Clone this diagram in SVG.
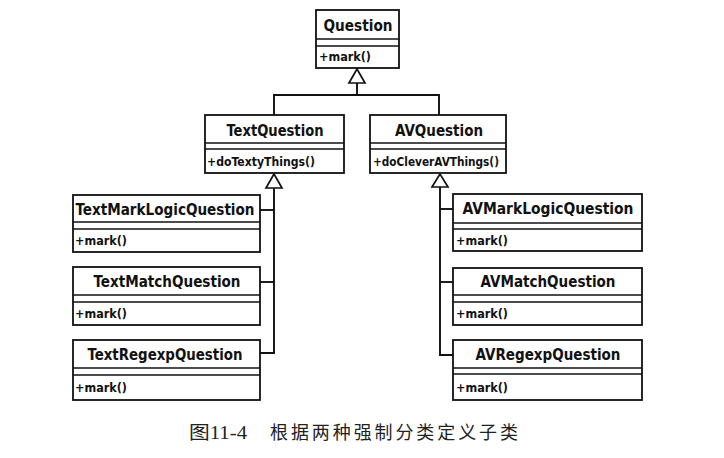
<svg xmlns="http://www.w3.org/2000/svg" width="724" height="458" viewBox="0 0 724 458">
<style>
.box{fill:#fff;stroke:#111;stroke-width:1.8}
.sep{stroke:#111;stroke-width:1.4}
.t{font-family:"DejaVu Sans Condensed","Liberation Sans",sans-serif;font-weight:bold;font-size:16.5px;fill:#111;text-anchor:middle}
.m{font-family:"DejaVu Sans Condensed","Liberation Sans",sans-serif;font-weight:bold;font-size:12px;fill:#111}
.c{stroke:#111;stroke-width:1.9;fill:none}
.tri{fill:#fff;stroke:#111;stroke-width:1.7}
.cap{font-family:"Liberation Serif","Noto Sans CJK SC",serif;font-size:18px;fill:#222}
</style>
<rect width="724" height="458" fill="#fff"/>
<g id="connectors">
<polyline class="c" points="357,83 357,95"/>
<polyline class="c" points="274,115 274,95 439,95 439,115"/>
<polygon class="tri" points="357,69 349,83 365,83"/>
<polyline class="c" points="274,188 274,353 260,353"/>
<line class="c" x1="260" y1="210" x2="274" y2="210"/>
<line class="c" x1="260" y1="282" x2="274" y2="282"/>
<polygon class="tri" points="274,174 266,188 282,188"/>
<polyline class="c" points="440,187 440,355 453,355"/>
<line class="c" x1="440" y1="209" x2="453" y2="209"/>
<line class="c" x1="440" y1="282" x2="453" y2="282"/>
<polygon class="tri" points="440,174 432,187 448,187"/>
</g>
<g id="Question">
<rect class="box" x="316" y="10" width="83" height="58"/>
<line class="sep" x1="316" y1="39" x2="399" y2="39"/>
<line class="sep" x1="316" y1="46" x2="399" y2="46"/>
<text class="t" x="358" y="31" textLength="69" lengthAdjust="spacingAndGlyphs">Question</text>
<text class="m" x="319" y="61" textLength="52" lengthAdjust="spacingAndGlyphs">+mark()</text>
</g>
<g id="TextQuestion">
<rect class="box" x="205" y="115" width="139" height="58"/>
<line class="sep" x1="205" y1="143" x2="344" y2="143"/>
<line class="sep" x1="205" y1="149" x2="344" y2="149"/>
<text class="t" x="275" y="136" textLength="97" lengthAdjust="spacingAndGlyphs">TextQuestion</text>
<text class="m" x="207" y="166" textLength="108" lengthAdjust="spacingAndGlyphs">+doTextyThings()</text>
</g>
<g id="AVQuestion">
<rect class="box" x="370" y="115" width="136" height="58"/>
<line class="sep" x1="370" y1="143" x2="506" y2="143"/>
<line class="sep" x1="370" y1="149" x2="506" y2="149"/>
<text class="t" x="439" y="136" textLength="88" lengthAdjust="spacingAndGlyphs">AVQuestion</text>
<text class="m" x="373" y="166" textLength="126" lengthAdjust="spacingAndGlyphs">+doCleverAVThings()</text>
</g>
<g id="TextMarkLogicQuestion">
<rect class="box" x="73" y="195" width="187" height="57"/>
<line class="sep" x1="73" y1="222" x2="260" y2="222"/>
<line class="sep" x1="73" y1="229" x2="260" y2="229"/>
<text class="t" x="165" y="215" textLength="179" lengthAdjust="spacingAndGlyphs">TextMarkLogicQuestion</text>
<text class="m" x="75" y="245" textLength="52" lengthAdjust="spacingAndGlyphs">+mark()</text>
</g>
<g id="TextMatchQuestion">
<rect class="box" x="73" y="267" width="187" height="58"/>
<line class="sep" x1="73" y1="295" x2="260" y2="295"/>
<line class="sep" x1="73" y1="302" x2="260" y2="302"/>
<text class="t" x="167" y="287" textLength="147" lengthAdjust="spacingAndGlyphs">TextMatchQuestion</text>
<text class="m" x="75" y="318" textLength="52" lengthAdjust="spacingAndGlyphs">+mark()</text>
</g>
<g id="TextRegexpQuestion">
<rect class="box" x="73" y="340" width="187" height="60"/>
<line class="sep" x1="73" y1="368" x2="260" y2="368"/>
<line class="sep" x1="73" y1="375" x2="260" y2="375"/>
<text class="t" x="165" y="360" textLength="155" lengthAdjust="spacingAndGlyphs">TextRegexpQuestion</text>
<text class="m" x="75" y="392" textLength="52" lengthAdjust="spacingAndGlyphs">+mark()</text>
</g>
<g id="AVMarkLogicQuestion">
<rect class="box" x="453" y="194" width="189" height="57"/>
<line class="sep" x1="453" y1="223" x2="642" y2="223"/>
<line class="sep" x1="453" y1="229" x2="642" y2="229"/>
<text class="t" x="548" y="214" textLength="171" lengthAdjust="spacingAndGlyphs">AVMarkLogicQuestion</text>
<text class="m" x="456" y="245" textLength="52" lengthAdjust="spacingAndGlyphs">+mark()</text>
</g>
<g id="AVMatchQuestion">
<rect class="box" x="453" y="268" width="189" height="57"/>
<line class="sep" x1="453" y1="295" x2="642" y2="295"/>
<line class="sep" x1="453" y1="302" x2="642" y2="302"/>
<text class="t" x="548" y="287" textLength="135" lengthAdjust="spacingAndGlyphs">AVMatchQuestion</text>
<text class="m" x="456" y="318" textLength="52" lengthAdjust="spacingAndGlyphs">+mark()</text>
</g>
<g id="AVRegexpQuestion">
<rect class="box" x="453" y="340" width="189" height="60"/>
<line class="sep" x1="453" y1="368" x2="642" y2="368"/>
<line class="sep" x1="453" y1="374" x2="642" y2="374"/>
<text class="t" x="548" y="360" textLength="145" lengthAdjust="spacingAndGlyphs">AVRegexpQuestion</text>
<text class="m" x="456" y="392" textLength="52" lengthAdjust="spacingAndGlyphs">+mark()</text>
</g>
<g id="caption">
<text class="cap" x="189" y="439" textLength="58" lengthAdjust="spacingAndGlyphs">图11-4</text>
<text class="cap" x="270" y="439" textLength="248" lengthAdjust="spacing">根据两种强制分类定义子类</text>
</g>
</svg>
